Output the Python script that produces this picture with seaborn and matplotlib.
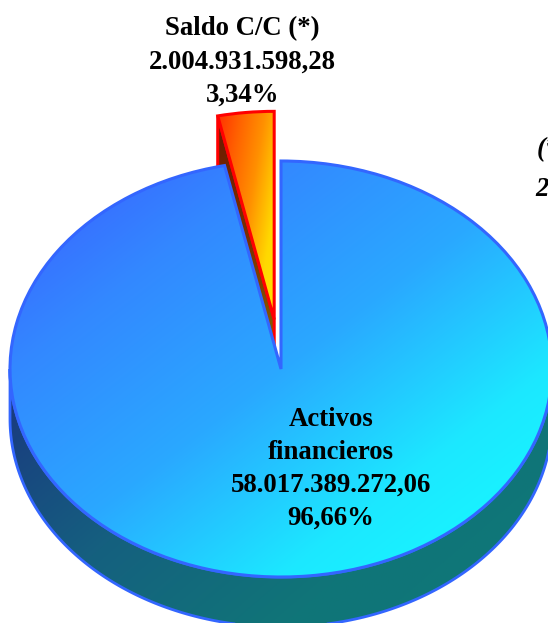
import numpy as np
import matplotlib
matplotlib.use("Agg")
import matplotlib.pyplot as plt
from matplotlib.patches import Polygon
import seaborn as sns

# data
categories = ["Saldo C/C (*)", "Activos\nfinancieros"]
amounts = ["2.004.931.598,28", "58.017.389.272,06"]
shares = [3.34, 96.66]
explode = [0.24, 0.0]

W, H = 548, 623
cx, cy, rx, ry = 281, 369, 271, 208
depth = 50 / ry

sns.set_theme(style="white")
plt.rcParams["font.family"] = ["Liberation Serif", "DejaVu Serif"]

fig = plt.figure(figsize=(W / 100, H / 100), dpi=100)
ax = fig.add_axes([0, 0, 1, 1])

wedges, _ = ax.pie(shares, explode=explode, startangle=90, radius=1)
small, big = wedges
ax.set_aspect("auto")
ax.set_xlim(-cx / rx, (W - cx) / rx)
ax.set_ylim((cy - H) / ry, cy / ry)


def gradient(colors, clip, z, box, ux=1.0, uy=1.0):
    # fondo degradado recortado a la forma
    x0, x1, y0, y1 = box
    xx, yy = np.meshgrid(np.linspace(0, 1, 300), np.linspace(0, 1, 300))
    g = (xx * ux + yy * uy) / (ux + uy)
    cmap = sns.blend_palette(colors, as_cmap=True)
    im = ax.imshow(g, cmap=cmap, extent=(x0, x1, y1, y0), aspect="auto",
                   zorder=z, vmin=0, vmax=1, interpolation="bilinear")
    im.set_clip_path(clip)


# pared lateral de la parte grande
t = np.radians(np.linspace(180, 360, 200))
lower = np.column_stack([np.cos(t), np.sin(t)])
shifted = lower - [0, depth]
side = Polygon(np.vstack([shifted, lower[::-1]]), closed=True, fc="none",
               ec="#3366FF", lw=2, zorder=2)
ax.add_patch(side)
gradient(["#1c2880", "#1a3a80", "#15607f", "#107578", "#0f7878"], side, 1,
         (-1, 1, 1, -1 - depth))

# pared de la porcion separada
ox, oy = small.center
a = np.radians(small.theta2)
rim = np.array([ox + np.cos(a), oy + np.sin(a)])
apex = np.array([ox, oy])
down = np.array([0, depth])
wall = Polygon([apex, rim, rim - down, apex - down], closed=True, fc="none",
               ec="#FF0000", lw=2.2, zorder=4)
ax.add_patch(wall)
gradient(["#6a1800", "#7a3000", "#8a6a00"], wall, 3,
         (ox - 0.3, ox + 0.05, oy + 1, oy - depth), ux=0.1, uy=1.0)

# tapa de la porcion separada
small.set(facecolor="none", edgecolor="#FF0000", linewidth=2.2, zorder=6)
gradient(["#ff2a00", "#ff6000", "#ff9000", "#ffd800", "#ffe800"], small, 5,
         (ox - 0.22, ox + 0.01, oy + 1.0, oy - 0.1), ux=1.0, uy=0.6)

# tapa de la parte grande
big.set(facecolor="none", edgecolor="#3366FF", linewidth=2.2, zorder=8)
gradient(["#3c5aff", "#3388ff", "#2aa8ff", "#1ce8ff", "#14ffff"], big, 7,
         (-1, 1, 1, -1))


# etiquetas
def px(x, y):
    return (x - cx) / rx, (cy - y) / ry


lab = dict(ha="center", va="center", fontweight="bold", color="black",
           fontsize=19.3, linespacing=1.42, zorder=10)
ax.text(*px(242.5, 62), f"{categories[0]}\n{amounts[0]}\n{str(shares[0]).replace('.', ',')}%", **lab)
ax.text(*px(331, 469), f"{categories[1]}\n{amounts[1]}\n{str(shares[1]).replace('.', ',')}%", **lab)

note = dict(ha="left", va="center", fontweight="bold", fontstyle="italic",
            color="black", fontsize=19.3, zorder=10)
ax.text(*px(537, 150), "(*", **note)
ax.text(*px(535, 190), "2", **note)

plt.savefig("out.png", dpi=100, facecolor="white")
